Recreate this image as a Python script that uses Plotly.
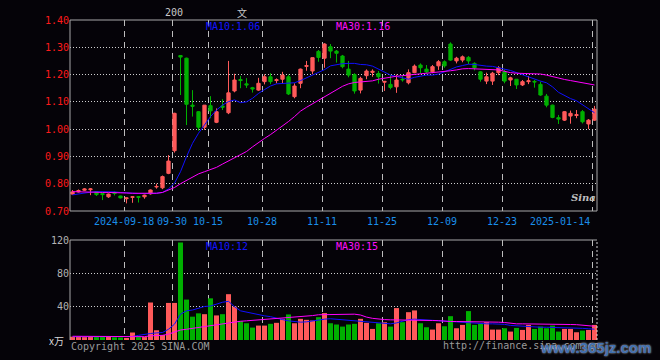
import plotly.graph_objects as go

# ---------------- data ----------------
dates = (
    ["2024-09-03", "2024-09-04", "2024-09-05", "2024-09-06", "2024-09-09", "2024-09-10",
     "2024-09-11", "2024-09-12", "2024-09-13", "2024-09-18", "2024-09-19", "2024-09-20",
     "2024-09-23", "2024-09-24", "2024-09-25", "2024-09-26", "2024-09-27", "2024-09-30"]
    + ["2024-10-08", "2024-10-09", "2024-10-10", "2024-10-11", "2024-10-14", "2024-10-15",
       "2024-10-16", "2024-10-17", "2024-10-18", "2024-10-21", "2024-10-22", "2024-10-23",
       "2024-10-24", "2024-10-25", "2024-10-28", "2024-10-29", "2024-10-30", "2024-10-31"]
    + ["2024-11-01", "2024-11-04", "2024-11-05", "2024-11-06", "2024-11-07", "2024-11-08",
       "2024-11-11", "2024-11-12", "2024-11-13", "2024-11-14", "2024-11-15", "2024-11-18",
       "2024-11-19", "2024-11-20", "2024-11-21", "2024-11-22", "2024-11-25", "2024-11-26",
       "2024-11-27", "2024-11-28", "2024-11-29"]
    + ["2024-12-02", "2024-12-03", "2024-12-04", "2024-12-05", "2024-12-06", "2024-12-09",
       "2024-12-10", "2024-12-11", "2024-12-12", "2024-12-13", "2024-12-16", "2024-12-17",
       "2024-12-18", "2024-12-19", "2024-12-20", "2024-12-23", "2024-12-24", "2024-12-25",
       "2024-12-26", "2024-12-27", "2024-12-30", "2024-12-31"]
    + ["2025-01-02", "2025-01-03", "2025-01-06", "2025-01-07", "2025-01-08", "2025-01-09",
       "2025-01-10", "2025-01-13", "2025-01-14"]
)

opens = [0.762, 0.770, 0.776, 0.778, 0.771, 0.764, 0.752, 0.768, 0.755, 0.745,
         0.750, 0.753, 0.752, 0.763, 0.788, 0.785, 0.838, 0.921, 1.270, 1.260,
         1.088, 1.064, 1.007, 1.086, 1.025, 1.085, 1.060, 1.140, 1.182, 1.166,
         1.152, 1.143, 1.174, 1.192, 1.178, 1.183, 1.192, 1.119, 1.168, 1.230,
         1.213, 1.285, 1.260, 1.302, 1.286, 1.268, 1.220, 1.200, 1.143, 1.196,
         1.208, 1.204, 1.172, 1.164, 1.155, 1.183, 1.170, 1.207, 1.235, 1.220,
         1.210, 1.232, 1.247, 1.312, 1.250, 1.253, 1.263, 1.241, 1.210, 1.176,
         1.176, 1.207, 1.210, 1.180, 1.183, 1.162, 1.174, 1.175, 1.164, 1.121,
         1.088, 1.042, 1.033, 1.048, 1.050, 1.064, 1.019, 1.033]

highs = [0.777, 0.779, 0.784, 0.784, 0.772, 0.766, 0.764, 0.772, 0.756, 0.750,
         0.754, 0.755, 0.760, 0.779, 0.800, 0.830, 0.905, 1.060, 1.270, 1.262,
         1.143, 1.066, 1.088, 1.121, 1.076, 1.110, 1.250, 1.203, 1.195, 1.187,
         1.155, 1.188, 1.201, 1.205, 1.186, 1.210, 1.200, 1.168, 1.222, 1.250,
         1.262, 1.290, 1.315, 1.312, 1.290, 1.272, 1.250, 1.205, 1.192, 1.219,
         1.219, 1.213, 1.176, 1.198, 1.200, 1.198, 1.219, 1.237, 1.241, 1.235,
         1.235, 1.253, 1.252, 1.318, 1.265, 1.270, 1.268, 1.245, 1.212, 1.207,
         1.210, 1.231, 1.219, 1.192, 1.183, 1.180, 1.195, 1.180, 1.174, 1.129,
         1.090, 1.052, 1.066, 1.068, 1.070, 1.070, 1.037, 1.085]

lows = [0.760, 0.768, 0.774, 0.758, 0.755, 0.740, 0.748, 0.757, 0.746, 0.728,
        0.730, 0.731, 0.745, 0.760, 0.782, 0.780, 0.835, 0.914, 1.125, 1.015,
        1.046, 0.994, 0.997, 1.040, 1.022, 1.070, 1.055, 1.135, 1.150, 1.151,
        1.134, 1.140, 1.164, 1.165, 1.168, 1.168, 1.125, 1.113, 1.150, 1.214,
        1.201, 1.247, 1.225, 1.260, 1.244, 1.223, 1.190, 1.130, 1.131, 1.183,
        1.192, 1.167, 1.140, 1.146, 1.133, 1.174, 1.164, 1.205, 1.205, 1.205,
        1.205, 1.217, 1.225, 1.250, 1.241, 1.245, 1.238, 1.215, 1.174, 1.165,
        1.162, 1.198, 1.168, 1.158, 1.147, 1.158, 1.165, 1.152, 1.122, 1.080,
        1.040, 1.019, 1.030, 1.020, 1.040, 1.021, 1.000, 1.030]

closes = [0.770, 0.775, 0.781, 0.781, 0.760, 0.760, 0.762, 0.764, 0.748, 0.748,
          0.752, 0.750, 0.758, 0.777, 0.790, 0.826, 0.883, 1.058, 1.264, 1.091,
          1.084, 1.007, 1.088, 1.067, 1.064, 1.080, 1.133, 1.180, 1.178, 1.162,
          1.147, 1.168, 1.192, 1.174, 1.181, 1.198, 1.129, 1.158, 1.220, 1.233,
          1.262, 1.263, 1.312, 1.286, 1.278, 1.229, 1.198, 1.140, 1.186, 1.213,
          1.212, 1.192, 1.175, 1.153, 1.180, 1.181, 1.207, 1.231, 1.225, 1.210,
          1.229, 1.247, 1.232, 1.253, 1.260, 1.265, 1.250, 1.225, 1.183, 1.192,
          1.205, 1.225, 1.176, 1.188, 1.162, 1.174, 1.177, 1.173, 1.125, 1.088,
          1.043, 1.037, 1.064, 1.058, 1.053, 1.027, 1.033, 1.073]

ma10 = [0.759, 0.763, 0.767, 0.769, 0.771, 0.771, 0.771, 0.770, 0.768, 0.766,
        0.764, 0.764, 0.764, 0.764, 0.765, 0.768, 0.781, 0.802, 0.844, 0.899,
        0.948, 0.985, 1.015, 1.046, 1.070, 1.088, 1.101, 1.107, 1.097, 1.100,
        1.113, 1.131, 1.145, 1.158, 1.166, 1.168, 1.168, 1.170, 1.178, 1.188,
        1.198, 1.208, 1.218, 1.232, 1.236, 1.240, 1.241, 1.241, 1.237, 1.236,
        1.231, 1.220, 1.206, 1.198, 1.193, 1.188, 1.183, 1.190, 1.195, 1.198,
        1.198, 1.202, 1.210, 1.220, 1.228, 1.233, 1.238, 1.237, 1.233, 1.231,
        1.230, 1.226, 1.220, 1.215, 1.207, 1.200, 1.193, 1.184, 1.176, 1.170,
        1.155, 1.135, 1.123, 1.112, 1.104, 1.090, 1.073, 1.060]

ma30 = [0.771, 0.770, 0.769, 0.769, 0.768, 0.768, 0.768, 0.768, 0.767, 0.766,
        0.765, 0.765, 0.764, 0.764, 0.765, 0.768, 0.776, 0.786, 0.800, 0.812,
        0.826, 0.836, 0.844, 0.851, 0.860, 0.872, 0.884, 0.893, 0.905, 0.918,
        0.935, 0.952, 0.966, 0.980, 0.995, 1.010, 1.028, 1.046, 1.066, 1.080,
        1.093, 1.105, 1.120, 1.134, 1.146, 1.157, 1.166, 1.171, 1.173, 1.174,
        1.177, 1.183, 1.187, 1.191, 1.194, 1.196, 1.198, 1.201, 1.203, 1.205,
        1.206, 1.208, 1.211, 1.214, 1.217, 1.221, 1.222, 1.221, 1.219, 1.218,
        1.217, 1.217, 1.212, 1.207, 1.205, 1.204, 1.204, 1.203, 1.202, 1.198,
        1.192, 1.187, 1.182, 1.178, 1.174, 1.170, 1.165, 1.162]

volumes = [4.0, 4.0, 3.5, 4.0, 3.5, 3.5, 3.8, 3.2, 3.0, 2.5,
           9.0, 3.5, 3.5, 45.0, 11.7, 6.0, 44.5, 44.5, 117.0, 48.5,
           28.0, 32.0, 31.0, 50.0, 29.5, 31.0, 55.0, 40.0, 22.5, 20.1,
           14.9, 17.3, 17.3, 19.4, 20.6, 25.4, 30.7, 20.1, 25.4, 24.2,
           23.4, 27.4, 32.3, 20.1, 18.6, 16.1, 18.6, 19.4, 25.4, 20.6,
           13.3, 20.1, 21.4, 16.1, 38.3, 21.4, 33.4, 35.5, 20.1, 15.3,
           12.5, 20.1, 16.5, 28.6, 14.1, 18.1, 34.7, 18.1, 19.4, 21.4,
           12.5, 12.5, 14.1, 10.1, 14.5, 12.1, 18.1, 13.3, 16.1, 14.1,
           17.3, 10.1, 13.3, 13.3, 9.3, 11.3, 12.1, 18.1]

vol_ma10 = [4.0, 4.0, 4.0, 4.0, 4.0, 4.0, 4.0, 4.0, 4.0, 4.0,
            4.2, 5.6, 7.0, 7.8, 8.5, 9.0, 12.9, 19.0, 31.0, 35.0,
            36.0, 38.2, 40.2, 40.8, 43.2, 45.3, 46.4, 40.0, 35.0, 33.5,
            31.5, 30.3, 29.0, 28.0, 26.0, 24.5, 23.0, 22.0, 21.4, 21.8,
            23.0, 24.2, 25.0, 25.5, 24.8, 24.2, 23.4, 23.0, 22.6, 21.8,
            21.2, 20.4, 19.8, 19.4, 20.5, 22.5, 24.5, 25.0, 24.5, 24.0,
            23.2, 22.5, 22.2, 22.0, 21.5, 20.8, 20.6, 20.4, 19.8, 19.4,
            19.4, 19.4, 18.8, 17.5, 17.0, 16.0, 15.4, 15.3, 15.3, 15.3,
            15.2, 15.0, 14.5, 14.2, 14.1, 14.0, 13.5, 13.0]

vol_ma30 = [4.5, 4.5, 4.4, 4.4, 4.3, 4.3, 4.2, 4.2, 4.1, 4.1,
            4.1, 4.0, 4.0, 5.0, 5.3, 5.6, 7.0, 9.5, 12.0, 12.9,
            14.0, 14.9, 15.8, 17.0, 17.8, 19.0, 20.0, 21.8, 22.5, 23.0,
            23.5, 24.2, 25.0, 25.5, 26.2, 26.8, 27.1, 27.6, 27.9, 28.8,
            29.3, 30.3, 30.3, 30.3, 30.8, 31.0, 31.0, 31.0, 30.0, 27.5,
            26.0, 25.0, 24.5, 24.2, 24.2, 24.2, 24.2, 24.2, 23.8, 23.4,
            23.4, 23.2, 22.5, 22.2, 22.2, 22.2, 22.2, 22.2, 21.8, 21.4,
            21.4, 21.4, 21.0, 20.0, 19.4, 19.4, 19.4, 19.4, 19.4, 19.4,
            19.4, 19.4, 18.8, 18.6, 18.4, 17.5, 17.3, 16.5]

tick_dates = ["2024-09-18", "2024-09-30", "2024-10-15", "2024-10-28", "2024-11-11",
              "2024-11-25", "2024-12-09", "2024-12-23", "2025-01-14"]
tick_labels = ["2024-09-18", "09-30", "10-15", "10-28", "11-11",
               "11-25", "12-09", "12-23", "2025-01-14"]
price_ticks = [0.70, 0.80, 0.90, 1.00, 1.10, 1.20, 1.30, 1.40]
vol_ticks = [40, 80, 120]

ma10_label = "MA10:1.06"
ma30_label = "MA30:1.16"
vol_ma10_label = "MA10:12"
vol_ma30_label = "MA30:15"

# ---------------- styling ----------------
BG = "#050308"
RED = "#ff5a5a"
GREEN = "#00b000"
MONO = "DejaVu Sans Mono"

x = list(range(len(dates)))
shift = 0.417  # gridlines sit on the left edge of a day's slot
tick_pos = [dates.index(d) - shift for d in tick_dates]
vol_colors = [RED if c >= o else GREEN for o, c in zip(opens, closes)]

fig = go.Figure()

fig.add_trace(go.Candlestick(
    x=x, open=opens, high=highs, low=lows, close=closes,
    increasing=dict(line=dict(color=RED, width=1), fillcolor=RED),
    decreasing=dict(line=dict(color=GREEN, width=1), fillcolor=GREEN),
    whiskerwidth=0, xaxis="x", yaxis="y", hoverinfo="skip", showlegend=False,
))
fig.add_trace(go.Scatter(x=x, y=ma10, mode="lines", line=dict(color="#1010ff", width=1),
                         xaxis="x", yaxis="y", showlegend=False, hoverinfo="skip"))
fig.add_trace(go.Scatter(x=x, y=ma30, mode="lines", line=dict(color="#ff00ff", width=1),
                         xaxis="x", yaxis="y", showlegend=False, hoverinfo="skip"))

fig.add_trace(go.Bar(x=x, y=volumes, marker=dict(color=vol_colors, line=dict(width=0)),
                     width=0.83, xaxis="x2", yaxis="y2", showlegend=False, hoverinfo="skip"))
fig.add_trace(go.Scatter(x=x, y=vol_ma10, mode="lines", line=dict(color="#1010ff", width=1),
                         xaxis="x2", yaxis="y2", showlegend=False, hoverinfo="skip"))
fig.add_trace(go.Scatter(x=x, y=vol_ma30, mode="lines", line=dict(color="#ff00ff", width=1),
                         xaxis="x2", yaxis="y2", showlegend=False, hoverinfo="skip"))

xr = [-shift, len(dates) - 0.583]
common_x = dict(range=xr, tickvals=tick_pos, showticklabels=False, ticks="",
                showgrid=True, gridcolor="#bdbdbd", griddash="6px,5px", gridwidth=1,
                zeroline=False, showline=False, fixedrange=True)

P_BOT = (340 - 211) / 320.0
V_TOP = (340 - 240) / 320.0

fig.update_layout(
    width=660, height=360,
    margin=dict(l=70, r=63, t=20, b=20),
    paper_bgcolor=BG, plot_bgcolor=BG,
    boxgap=0.22,
    showlegend=False,
    xaxis=dict(anchor="y", rangeslider=dict(visible=False), **common_x),
    xaxis2=dict(anchor="y2", matches="x", **common_x),
    yaxis=dict(domain=[P_BOT, 1.0], range=[0.70, 1.40], tickvals=price_ticks,
               ticktext=["%.2f" % v for v in price_ticks], ticks="",
               tickfont=dict(family=MONO, size=10, color="#ff1a1a"),
               showgrid=True, gridcolor="#d0d0d0", griddash="1px,2px", zeroline=False,
               showline=False, fixedrange=True),
    yaxis2=dict(domain=[0, V_TOP], range=[0, 120], tickvals=vol_ticks,
                ticktext=[str(v) for v in vol_ticks], ticks="",
                tickfont=dict(family=MONO, size=10, color="#b4b4b4"),
                showgrid=True, gridcolor="#d0d0d0", griddash="1px,2px", zeroline=False,
                showline=False, fixedrange=True),
)

# panel borders
fig.add_shape(type="rect", xref="paper", yref="paper", x0=0, x1=1, y0=P_BOT, y1=1,
              line=dict(color="#a8a8a8", width=1), layer="above")
fig.add_shape(type="line", xref="paper", yref="paper", x0=0, x1=1, y0=V_TOP, y1=V_TOP,
              line=dict(color="#a8a8a8", width=1), layer="above")
fig.add_shape(type="line", xref="paper", yref="paper", x0=0, x1=0, y0=0, y1=V_TOP,
              line=dict(color="#a8a8a8", width=1), layer="above")
fig.add_shape(type="line", xref="paper", yref="paper", x0=1, x1=1, y0=0, y1=V_TOP,
              line=dict(color="#d0d0d0", width=1, dash="2px,2px"), layer="above")

ann = []
# date labels under the price panel
for pos, lab in zip(tick_pos, tick_labels):
    last = lab == tick_labels[-1]
    ann.append(dict(x=pos, xref="x", y=(340 - 221) / 320.0, yref="paper", text=lab,
                    showarrow=False, xanchor="right" if last else "center", yanchor="middle",
                    font=dict(family=MONO, size=10, color="#1a8ee8")))


def px_x(v):
    return (v - 70) / 527.0


def px_y(v):
    return (340 - v) / 320.0


def txt(xp, yp, s, color, size=10, xanchor="left", family=MONO, **kw):
    ann.append(dict(x=px_x(xp), y=px_y(yp), xref="paper", yref="paper", text=s,
                    showarrow=False, xanchor=xanchor, yanchor="middle",
                    font=dict(family=family, size=size, color=color, **kw)))


txt(204, 27, ma10_label, "#1414ff")
txt(334, 27, ma30_label, "#ff10ff")
txt(204, 246, vol_ma10_label, "#1414ff")
txt(334, 246, vol_ma30_label, "#ff10ff")
txt(174, 12, "200", "#c8c8c8", xanchor="center")
txt(242, 12, "文", "#c8c8c8", xanchor="center", family="Noto Sans CJK SC")
txt(66, 340, "x万", "#d8d8d8", xanchor="right", size=10, family="Noto Sans CJK SC")
txt(69, 346, "Copyright 2025 SINA.COM", "#9a9a9a")
txt(441, 345, "http://finance.sina.com.cn", "#9a9a9a")
txt(583, 197, "<b><i>Sina</i></b>", "#bdbdbd", xanchor="center", size=10, family="DejaVu Serif")
txt(538, 347, "<b>www.365jz.com</b>", "#3f6fb0", size=15, family="Liberation Sans",
    shadow="0px 0px 2px #e8e8e8")

fig.update_layout(annotations=ann)

fig.write_html(
    "out.html",
    config={"displayModeBar": False},
    post_script=("document.body.style.margin='0';document.body.style.padding='0';"
                 "document.body.style.background='%s';"
                 "document.documentElement.style.background='%s';" % (BG, BG)),
)
